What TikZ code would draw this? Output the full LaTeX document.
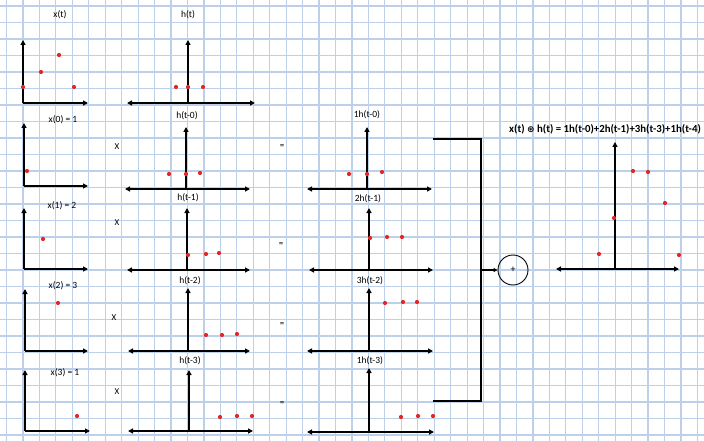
\documentclass[tikz,border=0pt]{standalone}
\usepackage{fontspec}
\setmainfont{Carlito}
\newfontfamily\symfont{DejaVu Sans}
\usetikzlibrary{arrows.meta}
\definecolor{gridblue}{RGB}{188,208,234}
\definecolor{dotred}{RGB}{228,38,38}
\tikzset{
  gridline/.style={draw=gridblue,line width=1.2pt},
  axis/.style={draw=black,line width=1.6pt,-{Triangle[length=5pt,width=5pt]}},
  daxis/.style={draw=black,line width=1.6pt,{Triangle[length=5pt,width=5pt]}-{Triangle[length=5pt,width=5pt]}},
  dot/.style={circle,fill=dotred,inner sep=0pt,minimum size=4.2pt},
  lbl/.style={font=\fontsize{9.5}{10}\selectfont,inner sep=0pt},
  op/.style={font=\fontsize{9}{10}\selectfont,inner sep=0pt},
  bracket/.style={draw=black,line width=1.4pt},
}
% one-sided plot: name, ox, oy, top y, right x
\newcommand{\oneplot}[5]{%
  \coordinate (#1o) at (#2,#3);
  \coordinate (#1t) at (#2,#4);
  \coordinate (#1r) at (#5,#3);
  \draw[axis] (#1o) -- (#1t);
  \draw[axis] (#1o) -- (#1r);}
% two-sided plot: name, ox, oy, top y, left x, right x
\newcommand{\twoplot}[6]{%
  \coordinate (#1o) at (#2,#3);
  \coordinate (#1t) at (#2,#4);
  \coordinate (#1l) at (#5,#3);
  \coordinate (#1r) at (#6,#3);
  \draw[axis] (#1o) -- (#1t);
  \draw[daxis] (#1l) -- (#1r);}
\begin{document}
\begin{tikzpicture}[x=1pt,y=-1pt]
\useasboundingbox (0,0) rectangle (704,441);
\fill[white] (0,0) rectangle (704,441);
% grid
\foreach \k in {0,...,42} { \draw[gridline] ({6.5+16.45*\k},0) -- ({6.5+16.45*\k},441); }
\foreach \k in {0,...,26} { \draw[gridline] (0,{6+16.5*\k}) -- (704,{6+16.5*\k}); }

% ---------- row 1 ----------
\oneplot{xa}{23}{103}{40}{88}
\node[lbl] (lxa) at (60,15) {x(t)};
\node[dot] (xa1) at (23,87) {};
\node[dot] (xa2) at (41,72) {};
\node[dot] (xa3) at (59,55) {};
\node[dot] (xa4) at (74,87) {};
\twoplot{ha}{188}{103}{40}{127}{255}
\node[lbl] (lha) at (188,15) {h(t)};
\node[dot] (ha1) at (176,87) {};
\node[dot] (ha2) at (188,87) {};
\node[dot] (ha3) at (203,87) {};

% ---------- row 2 ----------
\oneplot{xb}{24}{186}{123}{88}
\node[lbl] (lxb) at (63,120) {x(0) = 1};
\node[dot] (xb1) at (27,171) {};
\node[op] (mb) at (117,147) {X};
\twoplot{hb}{186}{189}{127}{125}{250}
\node[lbl] (lhb) at (187,116) {h(t-0)};
\node[dot] (hb1) at (169,174) {};
\node[dot] (hb2) at (186,174) {};
\node[dot] (hb3) at (200,173) {};
\node[op] (eb) at (282,147) {=};
\twoplot{rb}{367}{189}{127}{307}{432}
\node[lbl] (lrb) at (367,115) {1h(t-0)};
\node[dot] (rb1) at (349,174) {};
\node[dot] (rb2) at (367,174) {};
\node[dot] (rb3) at (382,172) {};

% ---------- row 3 ----------
\oneplot{xc}{24}{269}{208}{88}
\node[lbl] (lxc) at (62,206) {x(1) = 2};
\node[dot] (xc1) at (43,239) {};
\node[op] (mc) at (117,223) {X};
\twoplot{hc}{187}{270}{208}{127}{250}
\node[lbl] (lhc) at (188,198) {h(t-1)};
\node[dot] (hc1) at (188,255) {};
\node[dot] (hc2) at (206,254) {};
\node[dot] (hc3) at (219,253) {};
\node[op] (ec) at (281,245) {=};
\twoplot{rc}{369}{270}{208}{309}{433}
\node[lbl] (lrc) at (368,199) {2h(t-1)};
\node[dot] (rc1) at (370,238) {};
\node[dot] (rc2) at (387,237) {};
\node[dot] (rc3) at (402,237) {};

% ---------- row 4 ----------
\oneplot{xd}{25}{351}{289}{88}
\node[lbl] (lxd) at (63,286) {x(2) = 3};
\node[dot] (xd1) at (58,303) {};
\node[op] (md) at (114,318) {X};
\twoplot{hd}{188}{351}{288}{128}{250}
\node[lbl] (lhd) at (190,281) {h(t-2)};
\node[dot] (hd1) at (206,335) {};
\node[dot] (hd2) at (222,335) {};
\node[dot] (hd3) at (237,334) {};
\node[op] (ed) at (282,325) {=};
\twoplot{rd}{369}{351}{288}{307}{433}
\node[lbl] (lrd) at (370,281) {3h(t-2)};
\node[dot] (rd1) at (385,303) {};
\node[dot] (rd2) at (403,302) {};
\node[dot] (rd3) at (417,302) {};

% ---------- row 5 ----------
\oneplot{xe}{25}{431}{370}{90}
\node[lbl] (lxe) at (65,373) {x(3) = 1};
\node[dot] (xe1) at (77,416) {};
\node[op] (me) at (117,392) {X};
\twoplot{he}{189}{431}{370}{128}{253}
\node[lbl] (lhe) at (190,361) {h(t-3)};
\node[dot] (he1) at (220,417) {};
\node[dot] (he2) at (237,416) {};
\node[dot] (he3) at (252,416) {};
\node[op] (ee) at (282,404) {=};
\twoplot{re}{369}{432}{368}{307}{434}
\node[lbl] (lre) at (370,361) {1h(t-3)};
\node[dot] (re1) at (401,417) {};
\node[dot] (re2) at (418,416) {};
\node[dot] (re3) at (433,416) {};

% ---------- bracket and sum ----------
\coordinate (bt1) at (433,139);
\coordinate (bt2) at (481,139);
\coordinate (bb2) at (481,401);
\coordinate (bb1) at (433,401);
\coordinate (bm) at (481,270);
\draw[bracket] (bt1) -- (bt2) -- (bb2) -- (bb1);
\node[circle,draw=black,line width=0.9pt,minimum size=30pt,inner sep=0pt,font=\fontsize{10}{10}\selectfont] (sum) at (513,270) {+};
\draw[draw=black,line width=1.4pt,-{Triangle[length=4pt,width=4pt]}] (bm) -- (sum);

% ---------- result ----------
\node[lbl,font=\fontsize{10.8}{12}\selectfont\bfseries] (ttl) at (605,129) {x(t) {\symfont\fontsize{9}{10}\selectfont ⊛} h(t) = 1h(t-0)+2h(t-1)+3h(t-3)+1h(t-4)};
\twoplot{ry}{615}{269}{142}{556}{679}
\node[dot] (ry1) at (599,254) {};
\node[dot] (ry2) at (614,218) {};
\node[dot] (ry3) at (633,171) {};
\node[dot] (ry4) at (648,172) {};
\node[dot] (ry5) at (665,203) {};
\node[dot] (ry6) at (679,255) {};
\end{tikzpicture}
\end{document}
